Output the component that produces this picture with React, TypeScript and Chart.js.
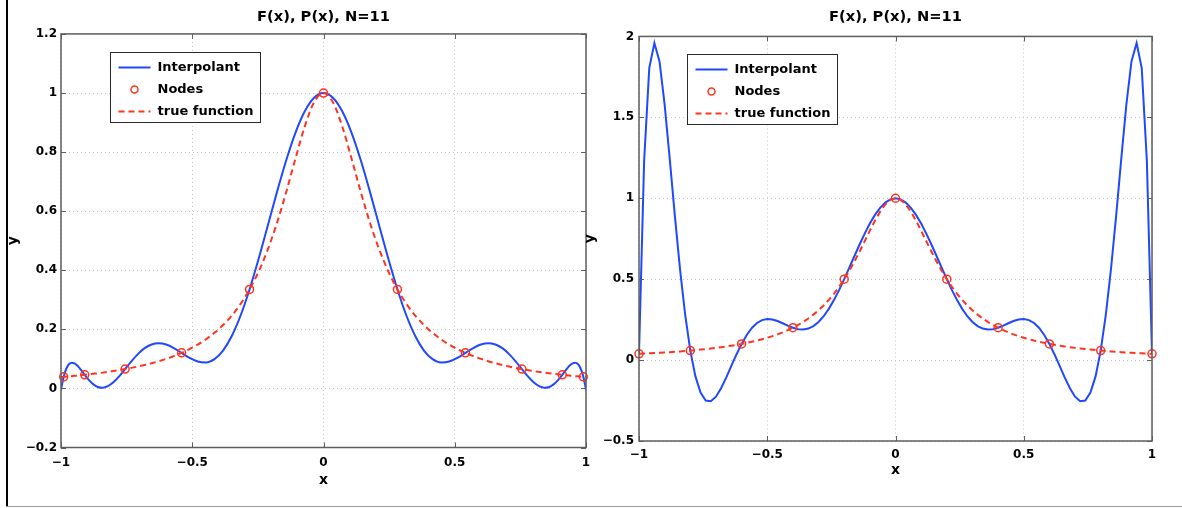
import React, { useEffect, useRef } from 'react';
import { Chart, registerables } from 'chart.js';

Chart.register(...registerables);
Chart.defaults.font.family = "'DejaVu Sans', sans-serif";
Chart.defaults.font.weight = 'bold';
Chart.defaults.color = '#000';

// ---------- text ----------
const TITLE = 'F(x), P(x), N=11';
const X_LABEL = 'x';
const Y_LABEL = 'y';
const LEGEND_LABELS = ['Interpolant', 'Nodes', 'true function'];
const X_TICKS = [-1, -0.5, 0, 0.5, 1];
const LEFT_Y_TICKS = [-0.2, 0, 0.2, 0.4, 0.6, 0.8, 1, 1.2];
const RIGHT_Y_TICKS = [-0.5, 0, 0.5, 1, 1.5, 2];

// ---------- left panel: Chebyshev nodes ----------
const chebX = [
  -1, -0.99936, -0.99745, -0.99427, -0.98982, -0.98411, -0.97715, -0.96894, -0.95949, -0.94883,
  -0.93695, -0.92388, -0.90963, -0.89423, -0.87768, -0.86002, -0.84125, -0.82142, -0.80054, -0.77864,
  -0.75575, -0.7319, -0.70711, -0.68142, -0.65486, -0.62747, -0.59928, -0.57032, -0.54064, -0.51027,
  -0.47925, -0.44762, -0.41542, -0.38268, -0.34946, -0.3158, -0.28173, -0.24731, -0.21257, -0.17755,
  -0.14232, -0.1069, -0.07134, -0.03569, 0,
  0.03569, 0.07134, 0.1069, 0.14232, 0.17755, 0.21257, 0.24731, 0.28173, 0.3158, 0.34946,
  0.38268, 0.41542, 0.44762, 0.47925, 0.51027, 0.54064, 0.57032, 0.59928, 0.62747, 0.65486,
  0.68142, 0.70711, 0.7319, 0.75575, 0.77864, 0.80054, 0.82142, 0.84125, 0.86002, 0.87768,
  0.89423, 0.90963, 0.92388, 0.93695, 0.94883, 0.95949, 0.96894, 0.97715, 0.98411, 0.98982,
  0.99427, 0.99745, 0.99936, 1,
];
const chebInterp = [
  -0.0053, -0.002, 0.0076, 0.022, 0.0392, 0.0567, 0.0718, 0.0825, 0.0871, 0.085,
  0.0765, 0.0628, 0.0461, 0.0291, 0.0145, 0.0049, 0.0023, 0.0076, 0.0209, 0.0409,
  0.0654, 0.0916, 0.1162, 0.1362, 0.1489, 0.1531, 0.1486, 0.1367, 0.1204, 0.1036,
  0.0911, 0.0881, 0.0992, 0.1282, 0.1773, 0.2469, 0.3351, 0.438, 0.5499, 0.6637,
  0.7714, 0.8653, 0.9381, 0.9842, 1,
  0.9842, 0.9381, 0.8653, 0.7714, 0.6637, 0.5499, 0.438, 0.3351, 0.2469, 0.1773,
  0.1282, 0.0992, 0.0881, 0.0911, 0.1036, 0.1204, 0.1367, 0.1486, 0.1531, 0.1489,
  0.1362, 0.1162, 0.0916, 0.0654, 0.0409, 0.0209, 0.0076, 0.0023, 0.0049, 0.0145,
  0.0291, 0.0461, 0.0628, 0.0765, 0.085, 0.0871, 0.0825, 0.0718, 0.0567, 0.0392,
  0.022, 0.0076, -0.002, -0.0053,
];
const chebTrue = [
  0.0385, 0.0385, 0.0387, 0.0389, 0.0392, 0.0397, 0.0402, 0.0409, 0.0416, 0.0425,
  0.0436, 0.0448, 0.0461, 0.0476, 0.0494, 0.0513, 0.0535, 0.056, 0.0587, 0.0619,
  0.0654, 0.0695, 0.0741, 0.0793, 0.0853, 0.0922, 0.1002, 0.1095, 0.1204, 0.1332,
  0.1483, 0.1664, 0.1882, 0.2145, 0.2467, 0.2863, 0.3351, 0.3954, 0.4696, 0.5592,
  0.6639, 0.7778, 0.8871, 0.9691, 1,
  0.9691, 0.8871, 0.7778, 0.6639, 0.5592, 0.4696, 0.3954, 0.3351, 0.2863, 0.2467,
  0.2145, 0.1882, 0.1664, 0.1483, 0.1332, 0.1204, 0.1095, 0.1002, 0.0922, 0.0853,
  0.0793, 0.0741, 0.0695, 0.0654, 0.0619, 0.0587, 0.056, 0.0535, 0.0513, 0.0494,
  0.0476, 0.0461, 0.0448, 0.0436, 0.0425, 0.0416, 0.0409, 0.0402, 0.0397, 0.0392,
  0.0389, 0.0387, 0.0385, 0.0385,
];
const chebNodeX = [-0.98982, -0.90963, -0.75575, -0.54064, -0.28173, 0, 0.28173, 0.54064, 0.75575, 0.90963, 0.98982];
const chebNodeY = [0.0392, 0.0461, 0.0654, 0.1204, 0.3351, 1, 0.3351, 0.1204, 0.0654, 0.0461, 0.0392];

// ---------- right panel: equispaced nodes ----------
const equiX = [
  -1, -0.98, -0.96, -0.94, -0.92, -0.9, -0.88, -0.86, -0.84, -0.82,
  -0.8, -0.78, -0.76, -0.74, -0.72, -0.7, -0.68, -0.66, -0.64, -0.62,
  -0.6, -0.58, -0.56, -0.54, -0.52, -0.5, -0.48, -0.46, -0.44, -0.42,
  -0.4, -0.38, -0.36, -0.34, -0.32, -0.3, -0.28, -0.26, -0.24, -0.22,
  -0.2, -0.18, -0.16, -0.14, -0.12, -0.1, -0.08, -0.06, -0.04, -0.02,
  0,
  0.02, 0.04, 0.06, 0.08, 0.1, 0.12, 0.14, 0.16, 0.18, 0.2,
  0.22, 0.24, 0.26, 0.28, 0.3, 0.32, 0.34, 0.36, 0.38, 0.4,
  0.42, 0.44, 0.46, 0.48, 0.5, 0.52, 0.54, 0.56, 0.58, 0.6,
  0.62, 0.64, 0.66, 0.68, 0.7, 0.72, 0.74, 0.76, 0.78, 0.8,
  0.82, 0.84, 0.86, 0.88, 0.9, 0.92, 0.94, 0.96, 0.98, 1,
];
const equiInterp = [
  0.0385, 1.2303, 1.8044, 1.959, 1.8458, 1.5787, 1.2402, 0.8881, 0.5604, 0.2802,
  0.0588, -0.1007, -0.2013, -0.2496, -0.2546, -0.2262, -0.1743, -0.1083, -0.0363, 0.0349,
  0.1, 0.1554, 0.1987, 0.2292, 0.2472, 0.2535, 0.251, 0.2415, 0.2278, 0.2131,
  0.2, 0.1912, 0.1888, 0.1946, 0.2099, 0.2353, 0.271, 0.3165, 0.3708, 0.4326,
  0.5, 0.571, 0.6432, 0.7142, 0.7817, 0.8434, 0.8971, 0.9409, 0.9733, 0.9933,
  1,
  0.9933, 0.9733, 0.9409, 0.8971, 0.8434, 0.7817, 0.7142, 0.6432, 0.571, 0.5,
  0.4326, 0.3708, 0.3165, 0.271, 0.2353, 0.2099, 0.1946, 0.1888, 0.1912, 0.2,
  0.2131, 0.2278, 0.2415, 0.251, 0.2535, 0.2472, 0.2292, 0.1987, 0.1554, 0.1,
  0.0349, -0.0363, -0.1083, -0.1743, -0.2262, -0.2546, -0.2496, -0.2013, -0.1007, 0.0588,
  0.2802, 0.5604, 0.8881, 1.2402, 1.5787, 1.8458, 1.959, 1.8044, 1.2303, 0.0385,
];
const equiTrue = [
  0.0385, 0.04, 0.0416, 0.0433, 0.0451, 0.0471, 0.0491, 0.0513, 0.0536, 0.0561,
  0.0588, 0.0617, 0.0648, 0.0681, 0.0716, 0.0755, 0.0796, 0.0841, 0.089, 0.0943,
  0.1, 0.1063, 0.1131, 0.1206, 0.1289, 0.1379, 0.1479, 0.159, 0.1712, 0.1848,
  0.2, 0.2169, 0.2358, 0.2571, 0.2809, 0.3077, 0.3378, 0.3717, 0.4098, 0.4525,
  0.5, 0.5525, 0.6098, 0.6711, 0.7353, 0.8, 0.8621, 0.9174, 0.9615, 0.9901,
  1,
  0.9901, 0.9615, 0.9174, 0.8621, 0.8, 0.7353, 0.6711, 0.6098, 0.5525, 0.5,
  0.4525, 0.4098, 0.3717, 0.3378, 0.3077, 0.2809, 0.2571, 0.2358, 0.2169, 0.2,
  0.1848, 0.1712, 0.159, 0.1479, 0.1379, 0.1289, 0.1206, 0.1131, 0.1063, 0.1,
  0.0943, 0.089, 0.0841, 0.0796, 0.0755, 0.0716, 0.0681, 0.0648, 0.0617, 0.0588,
  0.0561, 0.0536, 0.0513, 0.0491, 0.0471, 0.0451, 0.0433, 0.0416, 0.04, 0.0385,
];
const equiNodeX = [-1, -0.8, -0.6, -0.4, -0.2, 0, 0.2, 0.4, 0.6, 0.8, 1];
const equiNodeY = [0.0385, 0.0588, 0.1, 0.2, 0.5, 1, 0.5, 0.2, 0.1, 0.0588, 0.0385];

// ---------- styles ----------
const BLUE = 'rgb(32, 72, 255)';
const RED = 'rgb(255, 52, 30)';
const GRID = '#c4c4c4';
const BOX = '#5e5e5e';
const H = 508;

const fmt = (v: number) => String(Math.round(v * 10) / 10).replace('-', '\u2212');

const framePlugin = {
  id: 'matlabFrame',
  afterDatasetsDraw(chart: any, _args: any, opts: any) {
    const { ctx, chartArea: a, scales } = chart;
    ctx.save();
    // inward ticks
    ctx.strokeStyle = BOX;
    ctx.lineWidth = 1;
    ctx.setLineDash([]);
    ctx.beginPath();
    const TL = 5;
    scales.x.ticks.forEach((t: any) => {
      const px = Math.round(scales.x.getPixelForValue(t.value)) + 0.5;
      ctx.moveTo(px, a.bottom); ctx.lineTo(px, a.bottom - TL);
      ctx.moveTo(px, a.top); ctx.lineTo(px, a.top + TL);
    });
    scales.y.ticks.forEach((t: any) => {
      const py = Math.round(scales.y.getPixelForValue(t.value)) + 0.5;
      ctx.moveTo(a.left, py); ctx.lineTo(a.left + TL, py);
      ctx.moveTo(a.right, py); ctx.lineTo(a.right - TL, py);
    });
    ctx.stroke();
    // box
    ctx.lineWidth = 1.5;
    ctx.strokeRect(a.left, a.top, a.right - a.left, a.bottom - a.top);

    // legend
    const lx = Math.round(a.left + opts.dx) + 0.5;
    const ly = Math.round(a.top + opts.dy) + 0.5;
    ctx.font = "bold 13px 'DejaVu Sans'";
    const dsets = chart.data.datasets;
    const tw = Math.max(...dsets.map((d: any) => ctx.measureText(d.label).width));
    const w = Math.round(47 + tw + 7);
    const h = 70;
    ctx.fillStyle = '#fff';
    ctx.fillRect(lx, ly, w, h);
    ctx.strokeStyle = '#2a2a2a';
    ctx.lineWidth = 1;
    ctx.strokeRect(lx, ly, w, h);
    dsets.forEach((d: any, i: number) => {
      const cy = ly + 15 + 22 * i;
      if (d.showLine === false) {
        ctx.setLineDash([]);
        ctx.strokeStyle = d.pointBorderColor;
        ctx.lineWidth = 1.5;
        ctx.beginPath();
        ctx.arc(lx + 24, cy, 3.5, 0, Math.PI * 2);
        ctx.stroke();
      } else {
        ctx.setLineDash(d.borderDash || []);
        ctx.strokeStyle = d.borderColor;
        ctx.lineWidth = 2;
        ctx.beginPath();
        ctx.moveTo(lx + 8, cy);
        ctx.lineTo(lx + 40, cy);
        ctx.stroke();
      }
      ctx.setLineDash([]);
      ctx.fillStyle = '#000';
      ctx.textBaseline = 'middle';
      ctx.textAlign = 'left';
      ctx.fillText(d.label, lx + 47, cy);
    });
    ctx.restore();
  },
};

type Spec = {
  x: number[]; interp: number[]; truth: number[]; nodeX: number[]; nodeY: number[];
  yTicks: number[]; yMin: number; yMax: number;
  canvasLeft: number; canvasWidth: number; padRight: number; yAxisW: number; xAxisH: number;
  titleTop: number; titleBottom: number; xTickPad: number; yTickPad: number;
  xTitlePad: number; yTitlePad: number; legendDx: number; legendDy: number; smooth: boolean;
};

const LEFT: Spec = {
  x: chebX, interp: chebInterp, truth: chebTrue, nodeX: chebNodeX, nodeY: chebNodeY,
  yTicks: LEFT_Y_TICKS, yMin: -0.2, yMax: 1.2,
  canvasLeft: 0, canvasWidth: 610, padRight: 24, yAxisW: 61, xAxisH: 60.5,
  titleTop: 7.9, titleBottom: 8.4, xTickPad: 7.8, yTickPad: 4, xTitlePad: 19.6, yTitlePad: 5.3,
  legendDx: 49, legendDy: 18, smooth: true,
};
const RIGHT: Spec = {
  x: equiX, interp: equiInterp, truth: equiTrue, nodeX: equiNodeX, nodeY: equiNodeY,
  yTicks: RIGHT_Y_TICKS, yMin: -0.5, yMax: 2,
  canvasLeft: 580, canvasWidth: 602, padRight: 30, yAxisW: 59, xAxisH: 67,
  titleTop: 8.7, titleBottom: 10.1, xTickPad: 6.8, yTickPad: 5, xTitlePad: 28.9, yTitlePad: 1.5,
  legendDx: 48, legendDy: 17.5, smooth: false,
};

function makeConfig(s: Spec): any {
  const tickFont = { size: 12, weight: 'bold' as const };
  const labelFont = { size: 14, weight: 'bold' as const };
  return {
    type: 'line',
    data: {
      datasets: [
        {
          label: LEGEND_LABELS[0],
          data: s.x.map((x, i) => ({ x, y: s.interp[i] })),
          borderColor: BLUE, borderWidth: 2, pointRadius: 0,
          cubicInterpolationMode: s.smooth ? 'monotone' : 'default', tension: 0,
          order: 2,
        },
        {
          label: LEGEND_LABELS[1],
          data: s.nodeX.map((x, i) => ({ x, y: s.nodeY[i] })),
          showLine: false, pointStyle: 'circle', pointRadius: 4, pointBorderWidth: 1.5,
          pointBorderColor: RED, pointBackgroundColor: 'rgba(0,0,0,0)', borderColor: RED,
          clip: false, order: 0,
        },
        {
          label: LEGEND_LABELS[2],
          data: s.x.map((x, i) => ({ x, y: s.truth[i] })),
          borderColor: RED, borderWidth: 2, borderDash: [6, 4], pointRadius: 0,
          cubicInterpolationMode: s.smooth ? 'monotone' : 'default', tension: 0,
          order: 1,
        },
      ],
    },
    options: {
      responsive: false,
      animation: false,
      devicePixelRatio: 1,
      events: [],
      layout: { padding: { left: 0, right: s.padRight, top: 0, bottom: 0 } },
      plugins: {
        legend: { display: false },
        tooltip: { enabled: false },
        title: {
          display: true, text: TITLE, color: '#000', fullSize: false,
          font: { size: 14.7, weight: 'bold' },
          padding: { top: s.titleTop, bottom: s.titleBottom },
        },
        matlabFrame: { dx: s.legendDx, dy: s.legendDy },
      },
      scales: {
        x: {
          type: 'linear', min: -1, max: 1,
          afterBuildTicks: (sc: any) => { sc.ticks = X_TICKS.map((v) => ({ value: v })); },
          afterFit: (sc: any) => { sc.height = s.xAxisH; },
          ticks: { padding: s.xTickPad, maxRotation: 0, autoSkip: false, font: tickFont, color: '#000', callback: (v: any) => fmt(Number(v)) },
          grid: { color: GRID, lineWidth: 1, drawTicks: false },
          border: { display: false, dash: [1, 3] },
          title: { display: true, text: X_LABEL, color: '#000', font: labelFont, padding: { top: 0, bottom: s.xTitlePad } },
        },
        y: {
          type: 'linear', min: s.yMin, max: s.yMax,
          afterBuildTicks: (sc: any) => { sc.ticks = s.yTicks.map((v) => ({ value: v })); },
          afterFit: (sc: any) => { sc.width = s.yAxisW; },
          ticks: { padding: s.yTickPad, autoSkip: false, font: tickFont, color: '#000', callback: (v: any) => fmt(Number(v)) },
          grid: { color: GRID, lineWidth: 1, drawTicks: false },
          border: { display: false, dash: [1, 3] },
          title: { display: true, text: Y_LABEL, color: '#000', font: labelFont, padding: { top: s.yTitlePad, bottom: 0 } },
        },
      },
    },
    plugins: [framePlugin],
  };
}

function Panel({ spec }: { spec: Spec }) {
  const ref = useRef<HTMLCanvasElement>(null);
  useEffect(() => {
    const chart = new Chart(ref.current as HTMLCanvasElement, makeConfig(spec));
    return () => chart.destroy();
  }, [spec]);
  return (
    <canvas
      ref={ref}
      width={spec.canvasWidth}
      height={H}
      style={{ position: 'absolute', left: spec.canvasLeft, top: 0, width: spec.canvasWidth, height: H }}
    />
  );
}

export default function App() {
  return (
    <div style={{ position: 'fixed', left: 0, top: 0, width: 1182, height: H, background: '#fff', overflow: 'hidden' }}>
      <div style={{ position: 'absolute', left: 6, top: 0, width: 2, height: 507, background: '#000' }} />
      <div style={{ position: 'absolute', left: 6, top: 506, width: 1176, height: 1, background: '#9a9a9a' }} />
      <Panel spec={LEFT} />
      <Panel spec={RIGHT} />
    </div>
  );
}
